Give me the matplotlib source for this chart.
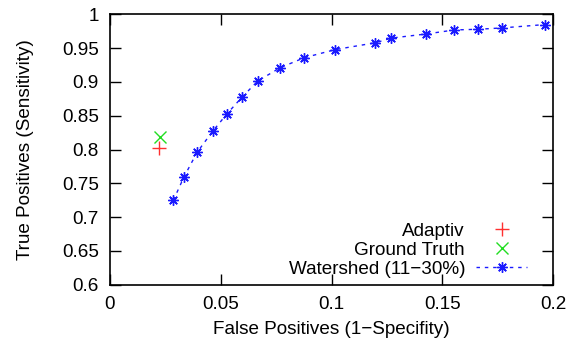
import matplotlib
matplotlib.use("Agg")
import matplotlib.pyplot as plt
from matplotlib.ticker import FuncFormatter

# ---------- data ----------
adaptiv_fp = [0.0221]
adaptiv_tp = [0.803]

truth_fp = [0.0227]
truth_tp = [0.818]

ws_fp = [0.0286, 0.0333, 0.0393, 0.0463, 0.0528, 0.0597, 0.0667, 0.0767,
         0.0877, 0.1017, 0.1197, 0.1270, 0.1426, 0.1554, 0.1660, 0.1769,
         0.1963]
ws_tp = [0.725, 0.759, 0.796, 0.827, 0.853, 0.878, 0.9015, 0.921,
         0.936, 0.948, 0.958, 0.965, 0.971, 0.977, 0.978, 0.980,
         0.985]

x_ticks = [0, 0.05, 0.1, 0.15, 0.2]
y_ticks = [0.6, 0.65, 0.7, 0.75, 0.8, 0.85, 0.9, 0.95, 1.0]

FS = 13.6
plt.rcParams["font.family"] = ["Liberation Sans", "DejaVu Sans"]
plt.rcParams["font.size"] = FS

fig = plt.figure(figsize=(5.71, 3.47), dpi=100)
ax = fig.add_axes([0.1926, 0.1793, 0.7764, 0.7792])

ax.plot(adaptiv_fp, adaptiv_tp, ls="none", marker="+", ms=10, mew=1.0,
        color="#ff3030", label="Adaptiv")
ax.plot(truth_fp, truth_tp, ls="none", marker="x", ms=9, mew=1.0,
        color="#22dd22", label="Ground Truth")
ax.plot(ws_fp, ws_tp, ls=(0, (2.5, 3.5)), lw=1.0, marker=(8, 2, 0), ms=7.5,
        mew=1.0, color="#1a1aff", label="Watershed (11\u221230%)")

ax.set_xlim(0, 0.2)
ax.set_ylim(0.6, 1.0)
ax.set_xticks(x_ticks)
ax.set_yticks(y_ticks)
fmt = FuncFormatter(lambda v, p: ("%g" % v).replace("-", "\u2212"))
ax.xaxis.set_major_formatter(fmt)
ax.yaxis.set_major_formatter(fmt)
ax.tick_params(direction="in", length=8, width=1, top=True, right=True,
               pad=8, labelsize=FS)
for s in ax.spines.values():
    s.set_linewidth(1.2)

ax.set_xlabel("False Positives (1\u2212Specifity)", labelpad=6)
ax.set_ylabel("True Positives (Sensitivity)", labelpad=20)

ax.legend(loc="lower right", markerfirst=False, frameon=False, fontsize=FS,
          handlelength=2.7, handletextpad=0.6, labelspacing=0.1,
          borderaxespad=0.2, bbox_to_anchor=(0.967, -0.016))

fig.savefig("out.png", dpi=100)
